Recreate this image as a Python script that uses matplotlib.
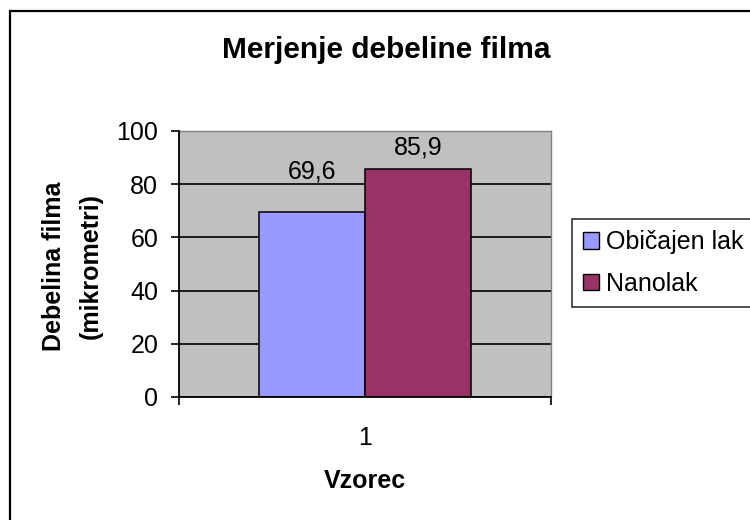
import matplotlib
matplotlib.use("Agg")
import matplotlib.pyplot as plt
from matplotlib.patches import Rectangle

plt.rcParams['font.family'] = ['Liberation Sans', 'DejaVu Sans']

# data
categories = ["1"]
series_names = ["Običajen lak", "Nanolak"]
series_values = [[69.6], [85.9]]
value_labels = [["69,6"], ["85,9"]]
yticks = [0, 20, 40, 60, 80, 100]
colors = ["#9999FF", "#993366"]

W, H = 750, 520
fig = plt.figure(figsize=(W / 100, H / 100), dpi=100)

# outer chart border (only top and left fall inside the image)
fig.add_artist(Rectangle((9.5 / W, -0.1), 2.0, 1.1 - 11.5 / H,
                         transform=fig.transFigure, fill=False,
                         edgecolor="black", linewidth=1.6))

ax = fig.add_axes([179 / W, 1 - 397 / H, 372 / W, 266 / H])
ax.set_facecolor("#C0C0C0")

bar_w = 0.285
for i, (name, vals) in enumerate(zip(series_names, series_values)):
    xs = [k + 1 + (i - 0.5) * bar_w for k in range(len(categories))]
    ax.bar(xs, vals, width=bar_w, color=colors[i], edgecolor="black",
           linewidth=1.1, label=name, zorder=3)

# value labels above the bars
label_offsets = [40, 21]
for i, (vals, labs) in enumerate(zip(series_values, value_labels)):
    for k, (v, t) in enumerate(zip(vals, labs)):
        x = k + 1 + (i - 0.5) * bar_w
        ax.annotate(t, (x, v), xytext=(0, label_offsets[i]),
                    textcoords="offset pixels", ha="center", va="center",
                    fontsize=18, zorder=4)

ax.set_xlim(0.5, len(categories) + 0.5)
ax.set_ylim(0, 100)
ax.set_yticks(yticks)
ax.grid(axis="y", color="black", linewidth=1.2, zorder=1)
ax.set_axisbelow(True)

ax.set_xticks([k + 1 for k in range(len(categories))])
ax.set_xticklabels(categories, fontsize=18)
ax.set_xticks([k + 0.5 for k in range(len(categories) + 1)], minor=True)
ax.tick_params(axis="x", which="major", length=0, pad=21)
ax.tick_params(axis="x", which="minor", length=6, width=1.2, direction="out")
ax.tick_params(axis="y", labelsize=18, length=6, width=1.2, direction="out", pad=9)

for side in ["left", "bottom"]:
    ax.spines[side].set_color("black")
    ax.spines[side].set_linewidth(1.3)
    ax.spines[side].set_zorder(5)
for side in ["top", "right"]:
    ax.spines[side].set_color("#808080")
    ax.spines[side].set_linewidth(1.0)

# titles
fig.text(386 / W, 1 - 50 / H, "Merjenje debeline filma", fontsize=21.5,
         fontweight="bold", ha="center", va="center")
fig.text(72.5 / W, 1 - 266 / H, "Debelina filma\n(mikrometri)", fontsize=18,
         fontweight="bold", ha="center", va="center", rotation=90,
         multialignment="center", linespacing=1.66)
fig.text(365 / W, 1 - 481 / H, "Vzorec", fontsize=18, fontweight="bold",
         ha="center", va="center")

leg = ax.legend(loc="upper left", bbox_to_anchor=(572 / W, 1 - 219 / H),
                bbox_transform=fig.transFigure, fontsize=18, frameon=True,
                fancybox=False, shadow=False, borderpad=0.45,
                handlelength=0.64, handleheight=0.64, handletextpad=0.26,
                labelspacing=0.7, borderaxespad=0)
leg.get_frame().set_edgecolor("black")
leg.get_frame().set_linewidth(1.2)
for h in leg.legend_handles:
    h.set_linewidth(1.0)

fig.savefig("out.png", dpi=100, facecolor="white")
